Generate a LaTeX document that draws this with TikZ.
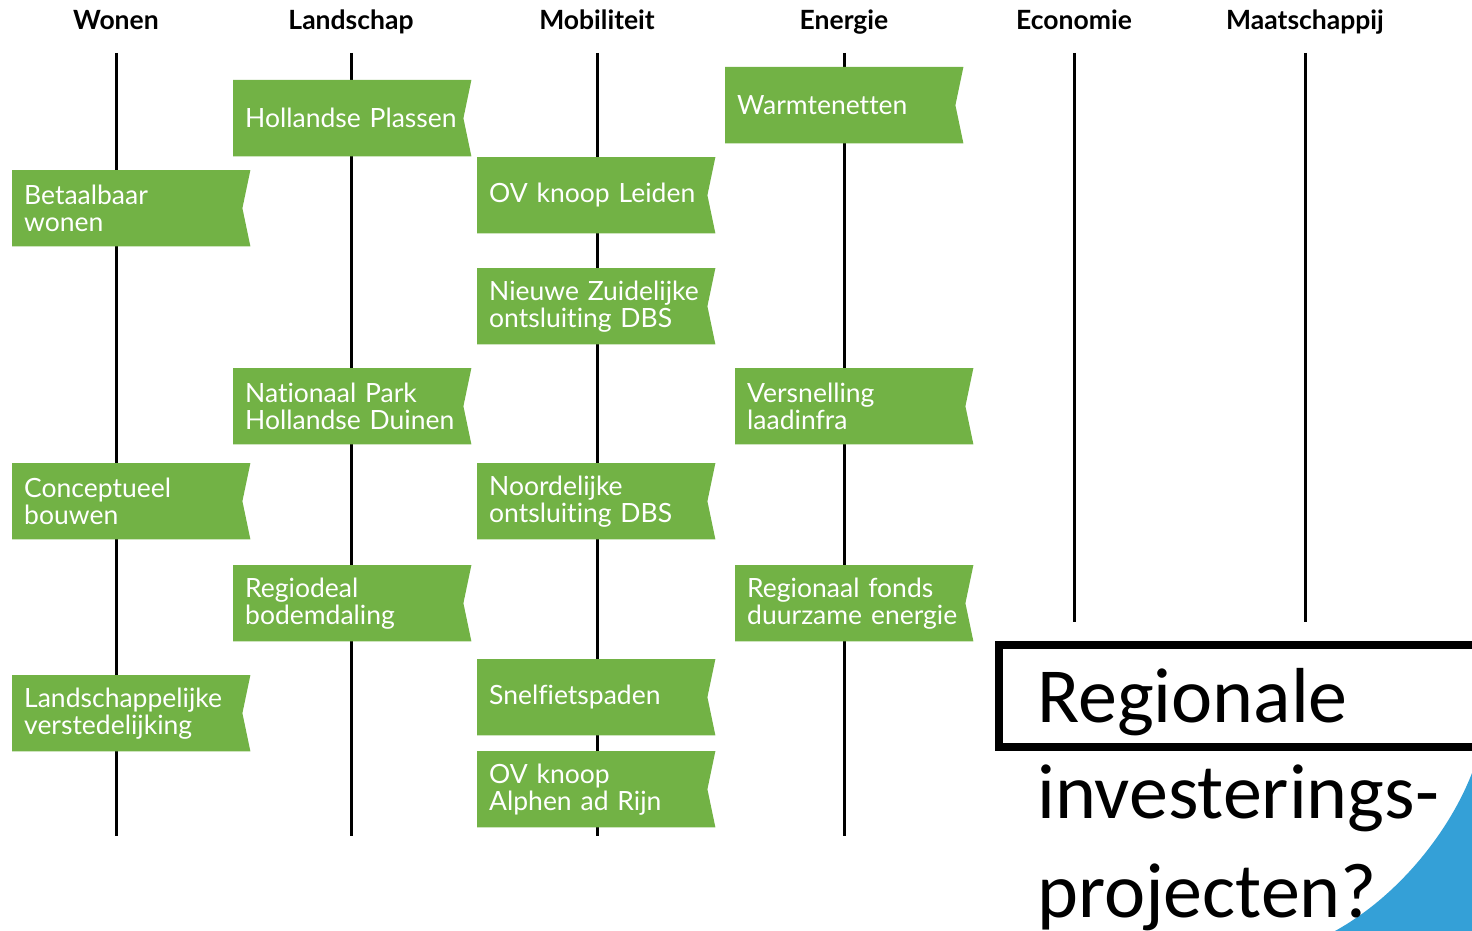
\documentclass[tikz,border=0pt]{standalone}
\usepackage{fontspec}
\setmainfont{Lato}[Ligatures=NoCommon]
\newfontfamily\calibri{Carlito}
\usetikzlibrary{backgrounds}

\definecolor{flaggreen}{RGB}{114,178,69}
\definecolor{cornerblue}{RGB}{52,160,215}

\tikzset{
  flag/.style={anchor=north west, minimum width=238, minimum height=76,
    inner xsep=12, inner ysep=0, text width=214, align=left, text=white,
    font=\fontsize{26.5}{27}\selectfont},
  column/.style={anchor=base, font=\bfseries\fontsize{26.5}{27}\selectfont},
  pole/.style={line width=3},
  bigline/.style={anchor=base west, inner sep=0, font=\calibri\fontsize{78}{98}\selectfont}
}

\begin{document}
\begin{tikzpicture}[x=1pt,y=-1pt]
  \useasboundingbox (0,0) rectangle (1472,931);
  \clip (0,0) rectangle (1472,931);

  % column headers
  \node[column] (wonen) at (116,30) {Wonen};
  \node[column] (landschap) at (351,30) {Landschap};
  \node[column] (mobiliteit) at (597,30) {Mobiliteit};
  \node[column] (energie) at (844,30) {Energie};
  \node[column] (economie) at (1074,30) {Economie};
  \node[column] (maatschappij) at (1305,30) {Maatschappij};

  \coordinate (wonen-top) at (116,53);        \coordinate (wonen-bot) at (116,836);
  \coordinate (landschap-top) at (351,53);    \coordinate (landschap-bot) at (351,836);
  \coordinate (mobiliteit-top) at (597,53);   \coordinate (mobiliteit-bot) at (597,836);
  \coordinate (energie-top) at (844,53);      \coordinate (energie-bot) at (844,836);
  \coordinate (economie-top) at (1074,53);    \coordinate (economie-bot) at (1074,622);
  \coordinate (maatschappij-top) at (1305,53); \coordinate (maatschappij-bot) at (1305,622);

  % projects
  \node[flag] (betaalbaar) at (12,170) {Betaalbaar\\wonen};
  \node[flag] (concept) at (12,463) {Conceptueel\\bouwen};
  \node[flag] (verstedelijking) at (12,675) {Landschappelijke\\verstedelijking};

  \node[flag] (plassen) at (233,80) {Hollandse Plassen};
  \node[flag] (duinen) at (233,368) {Nationaal Park\\Hollandse Duinen};
  \node[flag] (bodem) at (233,565) {Regiodeal\\bodemdaling};

  \node[flag] (leiden) at (477,157) {OV knoop Leiden};
  \node[flag] (zuid) at (477,268) {Nieuwe Zuidelijke\\ontsluiting DBS};
  \node[flag] (noord) at (477,463) {Noordelijke\\ontsluiting DBS};
  \node[flag] (fiets) at (477,659) {Snelfietspaden};
  \node[flag] (alphen) at (477,751) {OV knoop\\Alphen ad Rijn};

  \node[flag] (warmte) at (725,67) {Warmtenetten};
  \node[flag] (laad) at (735,368) {Versnelling\\laadinfra};
  \node[flag] (fonds) at (735,565) {Regionaal fonds\\duurzame energie};

  \begin{pgfonlayer}{background}
    \draw[pole] (wonen-top) -- (wonen-bot);
    \draw[pole] (landschap-top) -- (landschap-bot);
    \draw[pole] (mobiliteit-top) -- (mobiliteit-bot);
    \draw[pole] (energie-top) -- (energie-bot);
    \draw[pole] (economie-top) -- (economie-bot);
    \draw[pole] (maatschappij-top) -- (maatschappij-bot);

    \foreach \n in {betaalbaar,concept,verstedelijking,plassen,duinen,bodem,
                    leiden,zuid,noord,fiets,alphen,warmte,laad,fonds}
      \fill[flaggreen] (\n.north west) -- (\n.north east)
        -- ([xshift=-8pt]\n.east) -- (\n.south east) -- (\n.south west) -- cycle;
  \end{pgfonlayer}

  % question corner
  \fill[cornerblue] (1472,773) .. controls (1450,830) and (1400,895) .. (1335,931)
    -- (1472,931) -- cycle;
  \draw[line width=8] (999,645) rectangle (1500,747);
  \node[bigline] (regionale) at (1037,722) {Regionale};
  \node[bigline] (investerings) at (1037,818) {investerings-};
  \node[bigline] (projecten) at (1037,917) {projecten?};
\end{tikzpicture}
\end{document}
